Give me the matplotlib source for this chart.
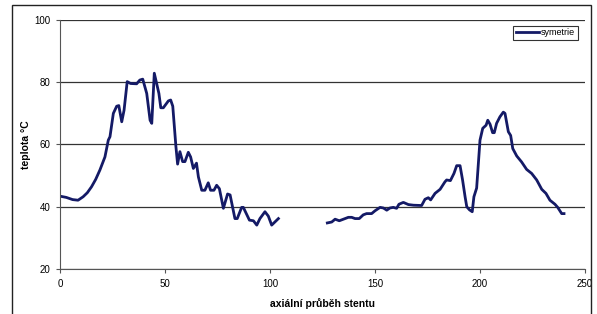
import numpy as np
import matplotlib.pyplot as plt
from matplotlib.patches import Rectangle

plt.rcParams['font.family'] = ['Liberation Sans', 'DejaVu Sans']

# first part of the curve (x = axial position, y = temperature)
x1 = [0, 3, 6, 8.6, 11, 13, 15, 17, 19, 21.4, 23, 23.8, 25.4, 27, 28, 29.4, 30.5,
      32, 33.6, 36.5, 38, 39.4, 41.3, 42.9, 43.7, 44.9, 47.1, 48, 49.2, 51.6, 52.7,
      53.7, 55.2, 56, 57.1, 58.4, 59.5, 61.1, 62.2, 63.5, 65, 65.9, 67.5, 69, 70.6,
      71.7, 73.3, 74.6, 75.9, 77.8, 79.8, 81, 83.3, 84.4, 86.5, 87.3, 90.2, 92.1,
      93.7, 95.2, 97.6, 99.2, 100.8, 104]
y1 = [43.4, 43.0, 42.3, 42.1, 43.2, 44.5, 46.4, 48.8, 51.8, 56, 61.4, 62.5, 70,
      72.3, 72.5, 67.3, 71, 80.2, 79.6, 79.5, 80.7, 81, 76.4, 67.8, 66.8, 82.9,
      76.4, 71.8, 71.8, 74, 74.3, 72.3, 59.3, 53.7, 57.7, 54.5, 54.5, 57.5, 56,
      52.3, 54, 49.6, 45.3, 45.3, 47.7, 45.3, 45.3, 46.9, 45.8, 39.5, 44.1, 43.8,
      36.2, 36.2, 39.8, 39.8, 35.7, 35.5, 34.1, 36.2, 38.4, 37, 34.1, 36.2]

# second part of the curve after the gap
x2 = [127.3, 129.4, 131, 133, 134.9, 137.3, 138.9, 140.5, 142.5, 144.4, 146, 148.4,
      150, 152.4, 154, 155.6, 157.1, 158.7, 160.3, 161.4, 163.5, 165.9, 168.3,
      172.2, 173.8, 175.4, 176.5, 178.6, 181, 183.3, 184.1, 185.9, 187.6, 188.9,
      190.5, 191.7, 192.9, 193.7, 195, 196.3, 197.1, 198.4, 200, 201.3, 202.9,
      203.7, 204.8, 206, 206.8, 207.9, 209.5, 211.1, 211.9, 213.5, 214.6, 215.6,
      217.5, 219.8, 222.2, 224.6, 227, 229.4, 231.4, 233.3, 235.7, 237, 238.9, 240]
y2 = [34.8, 35.1, 36, 35.5, 36, 36.6, 36.6, 36.2, 36.2, 37.4, 37.8, 37.8, 38.7,
      39.8, 39.6, 38.9, 39.6, 39.8, 39.5, 40.8, 41.4, 40.7, 40.5, 40.4, 42.4,
      42.9, 42.2, 44.3, 45.6, 48, 48.6, 48.4, 50.7, 53.2, 53.2, 48.6, 43.2, 40,
      39, 38.4, 43.2, 46, 61.4, 65.2, 66.2, 67.8, 66.5, 63.8, 63.8, 66.8, 68.9,
      70.4, 70, 64.1, 62.9, 58.7, 56.3, 54.4, 52, 50.7, 48.6, 45.6, 44.3, 42.1,
      40.8, 39.8, 37.8, 37.8]

x = x1 + [np.nan] + x2
y = y1 + [np.nan] + y2

fig = plt.figure(figsize=(5.97, 3.14), dpi=100)
ax = fig.add_axes([60/597, 45/314, 525/597, 249/314])

ax.plot(x, y, color='#141a66', linewidth=2.0, label='symetrie')

ax.set_xlim(0, 250)
ax.set_ylim(20, 100)
ax.set_xticks([0, 50, 100, 150, 200, 250])
ax.set_yticks([20, 40, 60, 80, 100])
ax.yaxis.grid(True, color='#333333', linewidth=0.9)
ax.set_axisbelow(True)
for s in ['top', 'right']:
    ax.spines[s].set_visible(False)
for s in ['left', 'bottom']:
    ax.spines[s].set_color('#555555')
ax.tick_params(labelsize=7, length=3, color='#555555', pad=4)

ax.set_xlabel('axiální průběh stentu', fontsize=7.5, fontweight='bold', labelpad=7)
ax.set_ylabel('teplota °C', fontsize=7.5, fontweight='bold', labelpad=2)

leg = ax.legend(loc='upper right', bbox_to_anchor=(0.99, 0.985), fontsize=6.5,
                frameon=True, fancybox=False, handlelength=2.6, handletextpad=0.2,
                borderpad=0.3, borderaxespad=0.2)
leg.get_frame().set_edgecolor('black')
leg.get_frame().set_linewidth(0.8)

# outer chart border
fig.patches.append(Rectangle((12/597, -0.05), 579/597, 1.05 - 5/314,
                             transform=fig.transFigure, fill=False,
                             edgecolor='#222222', linewidth=1.0))

fig.savefig('out.png', dpi=100)
